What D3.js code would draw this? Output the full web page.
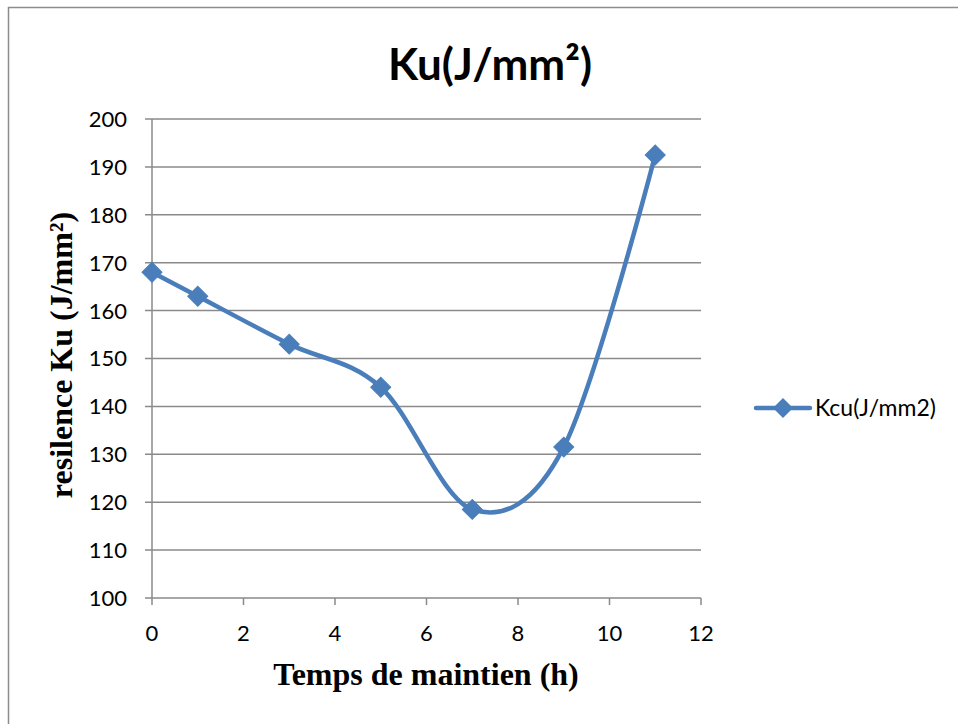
<!DOCTYPE html>
<html>
<head>
<meta charset="utf-8">
<script src="https://cdn.jsdelivr.net/npm/d3@7"></script>
<style>
html,body{margin:0;padding:0;background:#fff;}
svg{display:block;}
</style>
</head>
<body>
<svg id="chart" width="958" height="724"></svg>
<script>
const hours = [0, 1, 3, 5, 7, 9, 11];
const kcu = [168, 163, 153, 144, 118.5, 131.5, 192.5];
const xTicks = [0, 2, 4, 6, 8, 10, 12];
const yTicks = [100, 110, 120, 130, 140, 150, 160, 170, 180, 190, 200];
const seriesName = "Kcu(J/mm2)";
const titleText = "Ku(J/mm²)";
const xTitle = "Temps de maintien (h)";
const yTitle = "resilence Ku (J/mm²)";

const svg = d3.select("#chart");
const sans = "Lato, 'Open Sans', sans-serif";
const serif = "'Liberation Serif', 'Times New Roman', serif";
const gridColor = "#8a8a8a";
const blue = "#4a7ebb";

// outer frame
svg.append("rect").attr("x", 8.5).attr("y", 7.5).attr("width", 1000).attr("height", 800)
  .attr("fill", "none").attr("stroke", "#8c8c8c").attr("stroke-width", 1.5);

const x = d3.scaleLinear().domain([0, 12]).range([152, 701]);
const y = d3.scaleLinear().domain([100, 200]).range([598, 119]);

// gridlines
svg.append("g").selectAll("line").data(yTicks).join("line")
  .attr("x1", x(0) - 7).attr("x2", x(12))
  .attr("y1", d => y(d)).attr("y2", d => y(d))
  .attr("stroke", gridColor).attr("stroke-width", 1.5);

// y axis line
svg.append("line").attr("x1", x(0)).attr("x2", x(0)).attr("y1", y(200)).attr("y2", y(100))
  .attr("stroke", gridColor).attr("stroke-width", 1.5);

// x ticks
svg.append("g").selectAll("line").data(xTicks).join("line")
  .attr("x1", d => x(d)).attr("x2", d => x(d))
  .attr("y1", y(100)).attr("y2", y(100) + 7)
  .attr("stroke", gridColor).attr("stroke-width", 1.5);

// y tick labels
svg.append("g").selectAll("text").data(yTicks).join("text")
  .attr("x", 127).attr("y", d => y(d)).attr("dy", "0.36em")
  .attr("text-anchor", "end").attr("font-family", sans).attr("font-size", 22)
  .attr("fill", "#000").text(d => d);

// x tick labels
svg.append("g").selectAll("text").data(xTicks).join("text")
  .attr("x", d => x(d)).attr("y", 641)
  .attr("text-anchor", "middle").attr("font-family", sans).attr("font-size", 22)
  .attr("fill", "#000").text(d => d);

// title
svg.append("text").attr("x", 490).attr("y", 80).attr("text-anchor", "middle")
  .attr("font-family", sans).attr("font-weight", "bold").attr("font-size", 44)
  .attr("fill", "#000").text(titleText);

// axis titles
svg.append("text").attr("x", 426).attr("y", 685).attr("text-anchor", "middle")
  .attr("font-family", serif).attr("font-weight", "bold").attr("font-size", 32)
  .attr("fill", "#000").text(xTitle);

svg.append("text").attr("transform", "translate(72,355) rotate(-90)")
  .attr("text-anchor", "middle")
  .attr("font-family", serif).attr("font-weight", "bold").attr("font-size", 32)
  .attr("fill", "#000").text(yTitle);

// series line
const data = hours.map((h, i) => ({h, v: kcu[i]}));
const line = d3.line().x(d => x(d.h)).y(d => y(d.v)).curve(d3.curveCardinal.tension(0));
svg.append("path").datum(data).attr("d", line)
  .attr("fill", "none").attr("stroke", blue).attr("stroke-width", 4.5)
  .attr("stroke-linejoin", "round").attr("stroke-linecap", "round");

const diamond = d3.symbol().type(d3.symbolSquare).size(200);
svg.append("g").selectAll("path").data(data).join("path")
  .attr("d", diamond)
  .attr("transform", d => `translate(${x(d.h)},${y(d.v)}) rotate(45)`)
  .attr("fill", blue).attr("stroke", blue).attr("stroke-width", 1);

// legend
const lg = svg.append("g");
lg.append("line").attr("x1", 756).attr("x2", 810).attr("y1", 408).attr("y2", 408)
  .attr("stroke", blue).attr("stroke-width", 4.5).attr("stroke-linecap", "round");
lg.append("path").attr("d", diamond).attr("transform", "translate(783,408) rotate(45)")
  .attr("fill", blue);
lg.append("text").attr("x", 815).attr("y", 408).attr("dy", "0.36em")
  .attr("font-family", sans).attr("font-size", 23).attr("fill", "#000").text(seriesName);
</script>
</body>
</html>
